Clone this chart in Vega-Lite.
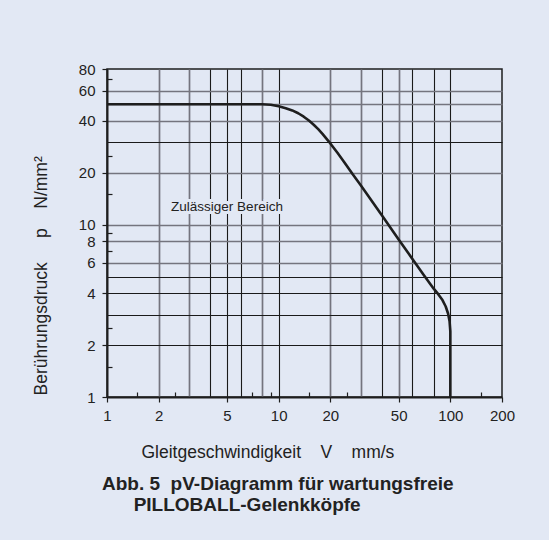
{
  "$schema": "https://vega.github.io/schema/vega-lite/v6.json",
  "width": 395,
  "height": 328,
  "autosize": {"type": "none"},
  "padding": {"left": 107, "top": 69, "right": 47, "bottom": 143},
  "background": "#e2e8f4",
  "config": {
    "view": {"stroke": "#1e1e1e", "strokeWidth": 1.5},
    "font": "Liberation Sans",
    "axis": {
      "domainColor": "#1e1e1e",
      "domainWidth": 2,
      "tickColor": "#1e1e1e",
      "tickWidth": 1.2,
      "labelColor": "#222222",
      "labelFont": "Liberation Sans",
      "labelFontSize": 15,
      "titleColor": "#222222",
      "titleFont": "Liberation Sans",
      "titleFontSize": 17.5,
      "titleFontWeight": "normal",
      "grid": true
    }
  },
  "title": {
    "text": ["Abb. 5\u00a0\u00a0pV-Diagramm für wartungsfreie", "\u200b\u00a0\u00a0\u00a0\u00a0\u00a0\u00a0PILLOBALL-Gelenkköpfe"],
    "orient": "bottom",
    "anchor": "start",
    "frame": "group",
    "font": "Liberation Sans",
    "fontSize": 19,
    "fontWeight": "bold",
    "color": "#222222",
    "dx": -5,
    "offset": 14,
    "lineHeight": 21
  },
  "encoding": {
    "x": {
      "field": "V",
      "type": "quantitative",
      "scale": {"type": "log", "domain": [1, 200], "nice": false},
      "axis": {
        "values": [1, 1.5, 2, 2.5, 3, 4, 5, 6, 7, 8, 9, 10, 15, 20, 25, 30, 40, 50, 60, 80, 100, 150, 200],
        "labelExpr": "indexof([1,2,5,10,20,50,100,200], datum.value) >= 0 ? '' + datum.value : ''",
        "labelPadding": 6,
        "labelFlush": false,
        "labelOverlap": false,
        "tickSize": {
          "condition": [
            {"test": "indexof([1,2,5,10,20,50,100,200], datum.value) >= 0", "value": 5},
            {"test": "indexof([1.5,2.5,7,9,15,25,150], datum.value) >= 0", "value": -5}
          ],
          "value": 0
        },
        "gridOpacity": {
          "condition": {"test": "indexof([2,3,4,5,6,8,10,20,30,40,50,60,80,100], datum.value) >= 0", "value": 1},
          "value": 0
        },
        "gridColor": {
          "condition": {"test": "indexof([2,3,8,20,30,50], datum.value) >= 0", "value": "#74747e"},
          "value": "#1a1a1a"
        },
        "gridWidth": {
          "condition": {"test": "indexof([2,3,8,20,30,50], datum.value) >= 0", "value": 1.7},
          "value": 1.1
        },
        "title": "Gleitgeschwindigkeit\u00a0\u00a0\u00a0\u00a0V\u00a0\u00a0\u00a0\u00a0mm/s",
        "titleAlign": "left",
        "titleBaseline": "alphabetic",
        "titleX": 34,
        "titleY": 60
      }
    },
    "y": {
      "field": "p",
      "type": "quantitative",
      "scale": {"type": "log", "domain": [1, 80], "nice": false},
      "axis": {
        "values": [1, 1.5, 2, 2.5, 3, 4, 5, 6, 7, 8, 9, 10, 15, 20, 25, 30, 40, 50, 60, 70, 80],
        "labelExpr": "indexof([1,2,4,6,8,10,20,40,60,80], datum.value) >= 0 ? '' + datum.value : ''",
        "labelPadding": 7,
        "labelFlush": false,
        "labelOverlap": false,
        "tickSize": {
          "condition": [
            {"test": "indexof([1,2,4,6,8,10,20,40,60,80], datum.value) >= 0", "value": 5},
            {"test": "indexof([1.5,2.5,7,9,15,25,70], datum.value) >= 0", "value": -5}
          ],
          "value": 0
        },
        "gridOpacity": {
          "condition": {"test": "indexof([2,3,4,5,6,8,10,20,30,40,50,60], datum.value) >= 0", "value": 1},
          "value": 0
        },
        "gridColor": {
          "condition": {"test": "indexof([6,8,10,20,40,50,60], datum.value) >= 0", "value": "#74747e"},
          "value": "#1a1a1a"
        },
        "gridWidth": {
          "condition": {"test": "indexof([6,8,10,20,40,50,60], datum.value) >= 0", "value": 1.7},
          "value": 1.1
        },
        "title": "Berührungsdruck\u00a0\u00a0\u00a0\u00a0\u00a0p\u00a0\u00a0\u00a0\u00a0N/mm²",
        "titleAngle": 270,
        "titleAlign": "left",
        "titleBaseline": "middle",
        "titleX": -66,
        "titleY": 326
      }
    }
  },
  "layer": [
    {
      "data": {
        "values": [
          {"V": 1, "p": 50},
          {"V": 8, "p": 50},
          {"V": 9, "p": 49.6},
          {"V": 10, "p": 48.6},
          {"V": 11, "p": 47.4},
          {"V": 12, "p": 46.0},
          {"V": 13, "p": 44.3},
          {"V": 14, "p": 42.3},
          {"V": 15, "p": 40.2},
          {"V": 16, "p": 38.0},
          {"V": 17, "p": 35.8},
          {"V": 18, "p": 33.6},
          {"V": 20, "p": 29.6},
          {"V": 22, "p": 26.1},
          {"V": 24, "p": 23.2},
          {"V": 27, "p": 19.6},
          {"V": 30, "p": 17.0},
          {"V": 40, "p": 11.3},
          {"V": 50, "p": 8.2},
          {"V": 60, "p": 6.35},
          {"V": 70, "p": 5.1},
          {"V": 80, "p": 4.25},
          {"V": 85, "p": 3.95},
          {"V": 90, "p": 3.65},
          {"V": 94, "p": 3.35},
          {"V": 97, "p": 3.05},
          {"V": 99, "p": 2.75},
          {"V": 100, "p": 2.4},
          {"V": 100, "p": 1}
        ]
      },
      "mark": {"type": "line", "color": "#1e1e1e", "strokeWidth": 2.6, "strokeJoin": "round"}
    },
    {
      "data": {"values": [{"V": 5, "p": 12.6, "label": "Zulässiger Bereich"}]},
      "mark": {"type": "text", "font": "Liberation Sans", "fontSize": 13.5, "stroke": "#e2e8f4", "strokeWidth": 6, "fill": "#e2e8f4"},
      "encoding": {"text": {"field": "label"}}
    },
    {
      "data": {"values": [{"V": 5, "p": 12.6, "label": "Zulässiger Bereich"}]},
      "mark": {"type": "text", "font": "Liberation Sans", "fontSize": 13.5, "color": "#222222"},
      "encoding": {"text": {"field": "label"}}
    }
  ]
}
